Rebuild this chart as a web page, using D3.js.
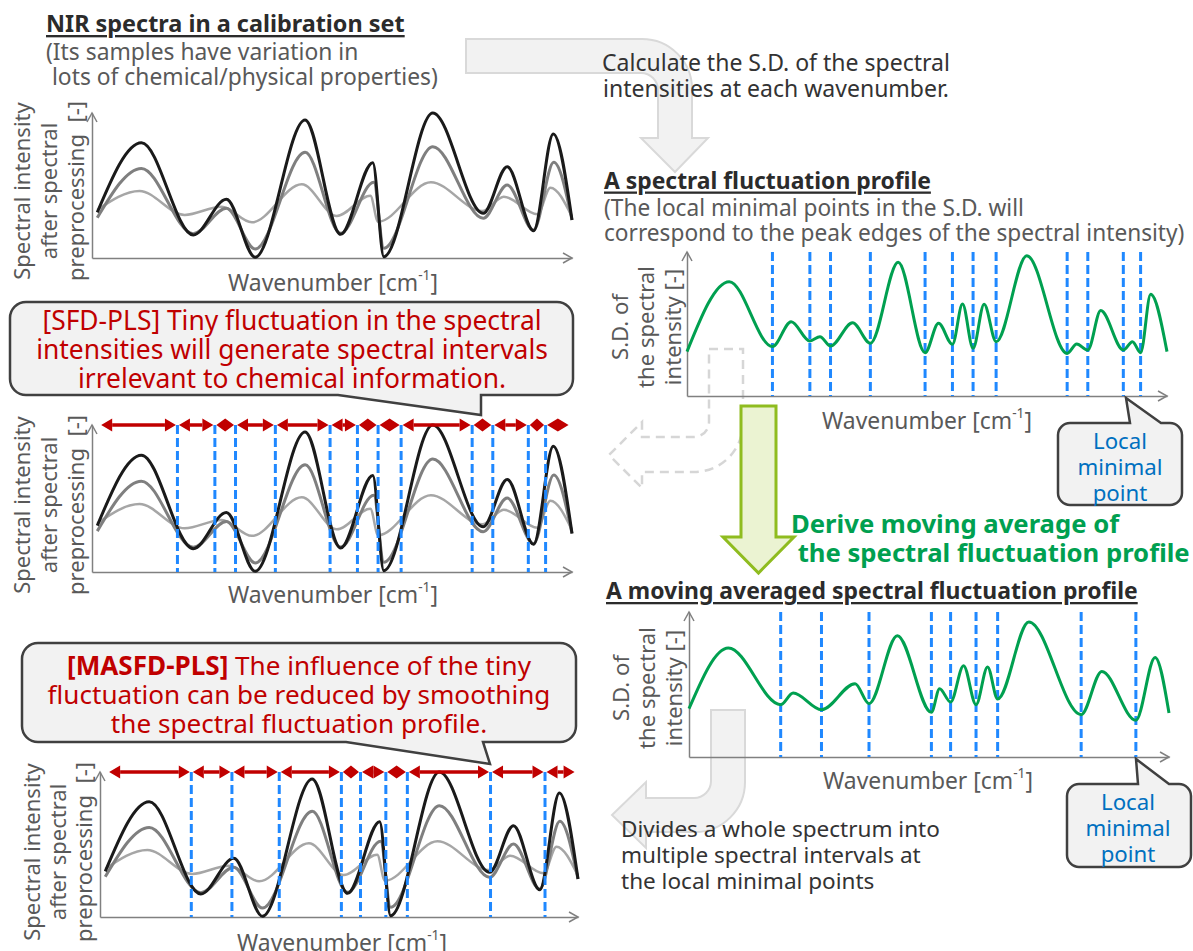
<!DOCTYPE html>
<html>
<head>
<meta charset="utf-8">
<script src="https://cdn.jsdelivr.net/npm/d3@7"></script>
<style>
  body { margin: 0; background: #fff; }
  svg { display: block; font-family: "Noto Sans", "Open Sans", sans-serif; }
</style>
</head>
<body>
<svg id="fig" width="1193" height="951"></svg>
<script>
// all curves: x in % of the wavenumber axis, y in % of the axis height
const spectrumDark = [[1.1,31.5],[10.3,79.5],[21.1,15.9],[28.0,40.5],[34.0,0.5],[44.4,95.2],[51.8,16.3],[58.5,65.7],[60.8,0.9],[71.0,100],[81.5,30.8],[86.5,63.0],[92.0,18.8],[96.1,85.5],[100,26.2]];
const spectrumMid = [[1.1,27.8],[10.3,61.8],[21.1,16.8],[28.0,34.3],[34.0,6.2],[44.4,72.9],[51.8,17.0],[58.7,52.2],[60.8,6.7],[71.0,76.8],[81.5,27.4],[86.5,50.3],[92.0,19.3],[96.2,66.0],[100,26.2]];
const spectrumLight = [[1.1,33.1],[9.9,46.2],[19.3,29.7],[27.0,35.4],[33.3,24.6],[43.7,50.8],[51.0,29.0],[58.0,43.0],[59.6,25.0],[70.6,52.2],[81.3,32.4],[85.8,42.3],[92.8,30.1],[95.5,48.5],[100,28.5]];

const sdProfile = [[0,30.8],[8.8,79.4],[17.8,34.3],[21.7,51.6],[25.6,38.2],[27.7,41.2],[29.9,34.7],[34.5,50.9],[38.2,36.6],[44.0,92.8],[49.6,30.1],[52.4,50.5],[55.3,35.9],[57.4,63.9],[59.6,33.1],[61.9,63.7],[64.4,37.7],[70.8,97.4],[79.2,29.6],[81.2,36.1],[83.5,31.9],[86.2,59.3],[90.9,31.9],[92.8,37.7],[94.5,30.1],[96.6,70.6],[100,30.8]];
const maProfile = [[0,33.3],[8.2,75.2],[19.1,36.1],[21.7,44.1],[27.6,32.6],[34.6,50.6],[37.5,36.8],[43.4,83.7],[50.5,30.8],[52.2,47.1],[54.5,37.9],[57.2,63.0],[59.8,36.1],[62.2,62.1],[64.3,40.0],[70.8,93.1],[81.7,29.2],[86.0,59.0],[93.1,25.3],[97.1,68.7],[100,30.3]];

// interval borders (local minima of each profile)
const sdMinima = [17.8, 25.6, 29.9, 38.2, 49.6, 55.3, 59.6, 64.4, 79.2, 83.5, 90.9, 94.5];
const maMinima = [19.1, 27.6, 37.5, 50.5, 54.5, 59.8, 64.3, 81.7, 93.1];

const RED = "#c00000", BLUE = "#1f88ff", GREEN = "#00a050", AXIS = "#808080";
const DARK = "#2b2b2b", GREY = "#595959";

const svg = d3.select("#fig");

function textBlock(parent, lines, o) {
  const t = parent.selectAll(null).data(lines).enter().append("text")
    .attr("x", o.x)
    .attr("y", (d, i) => o.y + i * (o.lh || 0))
    .attr("text-anchor", o.anchor || "start")
    .attr("dominant-baseline", "central")
    .attr("font-size", o.size)
    .attr("font-weight", o.weight || "normal")
    .attr("fill", o.fill || DARK);
  t.each(function (d) {
    const el = d3.select(this);
    if (typeof d === "string") el.text(d);
    else d.forEach(s => el.append("tspan").attr("font-weight", s.bold ? "bold" : null).text(s.t));
  });
  if (o.underline) t.style("text-decoration", "underline");
  if (o.width) {
    let w = 0;
    t.each(function () { w = Math.max(w, this.getComputedTextLength()); });
    if (w > 0) t.attr("font-size", o.size * o.width / w);
  }
  return t;
}

function yLabel(lines, cx, cy, lh, width) {
  const g = svg.append("g").attr("transform", `translate(${cx},${cy}) rotate(-90)`);
  textBlock(g, lines, { x: 0, y: -lh * (lines.length - 1) / 2, lh, anchor: "middle", size: 20, fill: GREY, width });
}

function wavenumber(cx, cy) {
  const t = svg.append("text").attr("x", cx).attr("y", cy)
    .attr("text-anchor", "middle").attr("dominant-baseline", "central")
    .attr("font-size", 20).attr("fill", GREY);
  t.append("tspan").text("Wavenumber [cm");
  t.append("tspan").style("font-size", "0.6em").attr("dy", "-0.6em").text("-1");
  t.append("tspan").attr("dy", "0.36em").text("]");
  const w = t.node().getComputedTextLength();
  t.attr("font-size", 20 * 210 / w);
}

function frame(box) {
  const x = d3.scaleLinear().domain([0, 100]).range([box.x0, box.x1]);
  const y = d3.scaleLinear().domain([0, 100]).range([box.y0, box.y1]);
  const g = svg.append("g");
  g.append("g").attr("transform", `translate(0,${box.y0})`)
    .call(d3.axisBottom(x).tickValues([]).tickSizeOuter(0));
  g.append("g").attr("transform", `translate(${box.x0},0)`)
    .call(d3.axisLeft(y).tickValues([]).tickSizeOuter(0));
  g.selectAll(".domain").attr("stroke", AXIS).attr("stroke-width", 1.5);
  g.append("path")
    .attr("d", `M${box.x1 - 9},${box.y0 - 5}L${box.x1},${box.y0}L${box.x1 - 9},${box.y0 + 5}` +
               `M${box.x0 - 5},${box.y1 + 9}L${box.x0},${box.y1}L${box.x0 + 5},${box.y1 + 9}`)
    .attr("fill", "none").attr("stroke", AXIS).attr("stroke-width", 1.5);
  return { g, x, y };
}

function curve(p, data, color, width) {
  const line = d3.line().x(d => p.x(d[0])).y(d => p.y(d[1])).curve(d3.curveMonotoneX);
  p.g.append("path").attr("d", line(data))
    .attr("fill", "none").attr("stroke", color).attr("stroke-width", width)
    .attr("stroke-linejoin", "round");
}

function drawSpectra(p) {
  curve(p, spectrumLight, "#a6a6a6", 2.5);
  curve(p, spectrumMid, "#7f7f7f", 3);
  curve(p, spectrumDark, "#1a1a1a", 3);
}

function drawMinima(p, minima) {
  p.g.selectAll(null).data(minima).enter().append("line")
    .attr("x1", d => p.x(d)).attr("x2", d => p.x(d))
    .attr("y1", p.y(100)).attr("y2", p.y(0))
    .attr("stroke", BLUE).attr("stroke-width", 3).attr("stroke-dasharray", "9,4");
}

function drawIntervals(p, minima) {
  const y = p.y(100);
  d3.pairs([1.6, ...minima, 99.6]).forEach(([a, b]) => {
    const xa = p.x(a) + 1.5, xb = p.x(b) - 1.5;
    const h = Math.min(11, (xb - xa) / 2), w = 6.5;
    if (xb - xa > 2 * h) {
      p.g.append("line").attr("x1", xa + h).attr("x2", xb - h).attr("y1", y).attr("y2", y)
        .attr("stroke", RED).attr("stroke-width", 3.5);
    }
    p.g.append("path")
      .attr("d", `M${xa},${y}L${xa + h},${y - w}L${xa + h},${y + w}Z M${xb},${y}L${xb - h},${y - w}L${xb - h},${y + w}Z`)
      .attr("fill", RED);
  });
}

// rounded box with a pointer; tail on the bottom (dir "down") or top (dir "up")
function callout(x0, y0, x1, y1, r, tail) {
  let d = `M${x0 + r},${y0}`;
  if (tail.dir === "up") d += `H${tail.a}L${tail.tip[0]},${tail.tip[1]}L${tail.b},${y0}`;
  d += `H${x1 - r}A${r},${r} 0 0 1 ${x1},${y0 + r}V${y1 - r}A${r},${r} 0 0 1 ${x1 - r},${y1}`;
  if (tail.dir === "down") d += `H${tail.b}L${tail.tip[0]},${tail.tip[1]}L${tail.a},${y1}`;
  d += `H${x0 + r}A${r},${r} 0 0 1 ${x0},${y1 - r}V${y0 + r}A${r},${r} 0 0 1 ${x0 + r},${y0}Z`;
  svg.append("path").attr("d", d).attr("fill", "#f2f2f2").attr("stroke", "#404040").attr("stroke-width", 2.5);
}

// ---- big grey flow arrows (behind everything) ----
svg.append("path")
  .attr("d", "M466,39H642A50,50 0 0 1 692,89V138H708L675,172L641,138H658V90A17,17 0 0 0 641,73H466Z")
  .attr("fill", "#f2f2f2").attr("stroke", "#d9d9d9").attr("stroke-width", 2);
svg.append("path")
  .attr("d", "M709,349H743V423A49,49 0 0 1 694,472H642V488L609,455L642,422V437H694A15,15 0 0 0 709,422Z")
  .attr("fill", "none").attr("stroke", "#d6d6d6").attr("stroke-width", 2.5).attr("stroke-dasharray", "9,6");
svg.append("path")
  .attr("d", "M711,710H745V782A50,50 0 0 1 695,832H646V848L612,815L646,782V798H694A17,17 0 0 0 711,781Z")
  .attr("fill", "#f2f2f2").attr("stroke", "#d9d9d9").attr("stroke-width", 2);

// ---- left column ----
textBlock(svg, ["NIR spectra in a calibration set"], { x: 46, y: 23, size: 19, weight: "bold", underline: true, width: 359 });
textBlock(svg, ["(Its samples have variation in", "\u00a0lots of chemical/physical properties)"],
  { x: 46, y: 51, lh: 25, size: 19, fill: GREY, width: 392 });

const nir = frame({ x0: 92, x1: 572, y0: 258, y1: 113 });
drawSpectra(nir);
yLabel(["Spectral intensity", "after spectral", "preprocessing\u00a0\u00a0[-]"], 48, 191, 27, 180);
wavenumber(333, 282);

const sfd = frame({ x0: 92, x1: 572, y0: 572, y1: 425 });
drawSpectra(sfd);
drawMinima(sfd, sdMinima);
drawIntervals(sfd, sdMinima);
yLabel(["Spectral intensity", "after spectral", "preprocessing\u00a0\u00a0[-]"], 48, 505, 27, 180);
wavenumber(333, 594);

callout(10, 302, 573, 395, 16, { dir: "down", a: 338, b: 481, tip: [481, 415] });
textBlock(svg, ["[SFD-PLS] Tiny fluctuation in the spectral", "intensities will generate spectral intervals", "irrelevant to chemical information."],
  { x: 292, y: 320, lh: 29, anchor: "middle", size: 22, fill: RED, width: 512 });

const masfd = frame({ x0: 100, x1: 578, y0: 917, y1: 772 });
drawSpectra(masfd);
drawMinima(masfd, maMinima);
drawIntervals(masfd, maMinima);
yLabel(["Spectral intensity", "after spectral", "preprocessing\u00a0\u00a0[-]"], 57, 852, 26, 180);
wavenumber(342, 942);

callout(22, 643, 576, 742, 16, { dir: "down", a: 346, b: 483, tip: [490, 764] });
textBlock(svg, [[{ t: "[MASFD-PLS]", bold: true }, { t: " The influence of the tiny" }],
  "fluctuation can be reduced by smoothing", "the spectral fluctuation profile."],
  { x: 299, y: 665, lh: 29, anchor: "middle", size: 22, fill: RED, width: 503 });

// ---- right column ----
textBlock(svg, ["Calculate the S.D. of the spectral", "intensities at each wavenumber."],
  { x: 776, y: 62, lh: 26, anchor: "middle", size: 19, fill: "#333", width: 348 });

textBlock(svg, ["A spectral fluctuation profile"], { x: 604, y: 180, size: 19, weight: "bold", underline: true, width: 327 });
textBlock(svg, ["(The local minimal points in the S.D. will", "correspond to the peak edges of the spectral intensity)"],
  { x: 604, y: 207, lh: 25.5, size: 19, fill: GREY, width: 581 });

const sd = frame({ x0: 687, x1: 1167, y0: 396, y1: 252 });
drawMinima(sd, sdMinima);
curve(sd, sdProfile, GREEN, 3);
yLabel(["S.D. of", "the spectral", "intensity [-]"], 645, 327, 26.5, 122);
wavenumber(927, 420);

callout(1058, 423, 1182, 505, 12, { dir: "up", a: 1130, b: 1161, tip: [1126, 398] });
textBlock(svg, ["Local", "minimal", "point"], { x: 1120, y: 440, lh: 26, anchor: "middle", size: 20, fill: "#0070c0", width: 85 });

svg.append("path")
  .attr("d", "M741,406H776V537H794L758.5,573L723,537H741Z")
  .attr("fill", "#ebf3d2").attr("stroke", "#8fbc1f").attr("stroke-width", 3);
textBlock(svg, ["Derive moving average of", "\u00a0the spectral fluctuation profile"],
  { x: 791, y: 523, lh: 29, size: 22, weight: "bold", fill: GREEN, width: 399 });

textBlock(svg, ["A moving averaged spectral fluctuation profile"], { x: 606, y: 590, size: 19, weight: "bold", underline: true, width: 532 });

const ma = frame({ x0: 689, x1: 1169, y0: 757, y1: 612 });
drawMinima(ma, maMinima);
curve(ma, maProfile, GREEN, 3);
yLabel(["S.D. of", "the spectral", "intensity [-]"], 646, 688, 26.5, 122);
wavenumber(928, 780);

callout(1067, 784, 1191, 867, 12, { dir: "up", a: 1138, b: 1169, tip: [1136, 759] });
textBlock(svg, ["Local", "minimal", "point"], { x: 1128, y: 801, lh: 26, anchor: "middle", size: 20, fill: "#0070c0", width: 85 });

textBlock(svg, ["Divides a whole spectrum into", "multiple spectral intervals at", "the local minimal points"],
  { x: 621, y: 828, lh: 26, size: 19, fill: "#333", width: 319 });
</script>
</body>
</html>
